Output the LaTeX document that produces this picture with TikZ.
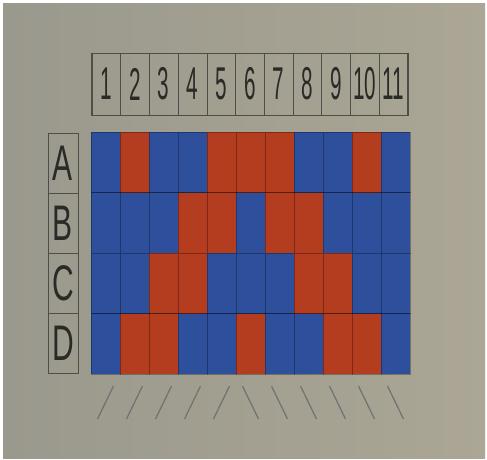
\documentclass[tikz,border=0pt]{standalone}
\usepackage{fontspec}
\setmainfont{Liberation Sans}
\usepackage{graphicx}
\definecolor{bgl}{HTML}{9A998D}
\definecolor{bgr}{HTML}{ABA695}
\definecolor{c0}{HTML}{2D4F9C}
\definecolor{c1}{HTML}{B43C1F}
\definecolor{ink}{HTML}{2A2A27}
\definecolor{sep}{HTML}{4E4E46}
\tikzset{
  cellbox/.style={minimum width=29pt, minimum height=60.5pt, inner sep=0pt, outer sep=0pt, draw=black, draw opacity=0.3, line width=0.6pt},
  headbox/.style={minimum width=28.7pt, minimum height=62pt, inner sep=0pt, outer sep=0pt, draw=sep, line width=0.6pt, text=ink},
  letterbox/.style={minimum width=30pt, minimum height=60pt, inner sep=0pt, outer sep=0pt, draw=sep, line width=0.6pt, text=ink},
  tick/.style={draw=black!55, line width=1.3pt},
}
\newcommand{\digtxt}[1]{\scalebox{0.45}[1]{\fontsize{46}{46}\selectfont #1}}
\newcommand{\lettxt}[1]{\scalebox{0.6}[1]{\fontsize{50}{50}\selectfont #1}}
\begin{document}
\begin{tikzpicture}[x=1pt,y=-1pt]
\useasboundingbox (0,0) rectangle (487,460);
\fill[white] (0,0) rectangle (487,460);
\shade[left color=bgl, right color=bgr] (3,4) rectangle (485,458);
% header
\draw[sep, line width=0.8pt] (91.5,53) rectangle (408.5,115);
\foreach \n [count=\c from 0] in {1,...,11}{
  \node[headbox] (h\n) at ({92+14.35+\c*28.7},84) {\digtxt{\n}};
}
% letters
\draw[sep, line width=0.8pt] (48,133) rectangle (78,373);
\foreach \L [count=\r from 0] in {A,B,C,D}{
  \node[letterbox] (l\L) at (63,{163+\r*60}) {\lettxt{\L}};
}
% grid
\foreach \rowvals [count=\r from 0] in {
  {0,1,0,0,1,1,1,0,0,1,0},
  {0,0,0,1,1,0,1,1,0,0,0},
  {0,0,1,1,0,0,0,1,1,0,0},
  {0,1,1,0,0,1,0,0,1,1,0}}{
  \foreach \v [count=\c from 0] in \rowvals {
    \node[cellbox, fill=c\v] (g\r-\c) at ({91+14.5+\c*29},{132+30.25+\r*60.5}) {};
  }
}
% ticks
\foreach \c in {0,...,4}{
  \coordinate (tt\c) at ({91+14.5+\c*29+8},386);
  \coordinate (tb\c) at ({91+14.5+\c*29-8},419);
  \draw[tick] (tt\c) -- (tb\c);
}
\foreach \c in {5,...,10}{
  \coordinate (tt\c) at ({91+14.5+\c*29-8},386);
  \coordinate (tb\c) at ({91+14.5+\c*29+8},419);
  \draw[tick] (tt\c) -- (tb\c);
}
\end{tikzpicture}
\end{document}
